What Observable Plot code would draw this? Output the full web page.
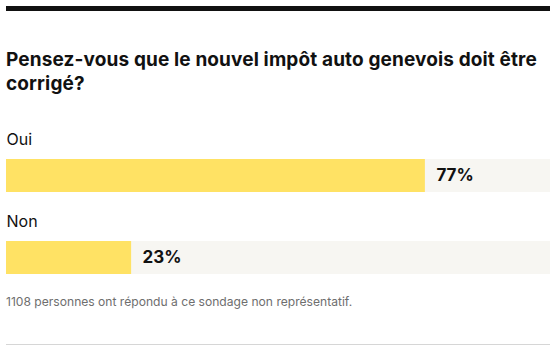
<!DOCTYPE html>
<html>
<head>
<meta charset="utf-8">
<script src="https://cdn.jsdelivr.net/npm/d3@7"></script>
<script src="https://cdn.jsdelivr.net/npm/@observablehq/plot@0.6"></script>
<style>
  html, body { margin: 0; padding: 0; background: #fff; }
  body { width: 558px; height: 351px; position: relative; overflow: hidden; font-family: Inter, Roboto, sans-serif; color: #111; }
  #topbar { position: absolute; left: 6px; top: 6px; width: 544px; height: 5px; background: #111; }
  #title { position: absolute; left: 6px; top: 48px; width: 550px; margin: 0; font-size: 19px; line-height: 24px; font-weight: 700; color: #111; letter-spacing: 0.13px; }
  #chart { position: absolute; left: 0; top: 120px; }
  #caption { position: absolute; left: 6px; top: 294px; font-size: 12.1px; line-height: 16px; color: #6e6e6e; }
  #bottomline { position: absolute; left: 6px; top: 344px; width: 544px; height: 1px; background: #d6d6d6; }
</style>
</head>
<body>
<div id="topbar"></div>
<h2 id="title">Pensez-vous que le nouvel impôt auto genevois doit être corrigé?</h2>
<div id="chart"></div>
<div id="caption">1108 personnes ont répondu à ce sondage non représentatif.</div>
<div id="bottomline"></div>
<script>
const categories = ["Oui", "Non"];
const values = [77, 23];
const valueLabels = ["77%", "23%"];

const data = categories.map((c, i) => ({category: c, value: values[i], label: valueLabels[i], total: 100}));

const plot = Plot.plot({
  width: 558,
  height: 160,
  marginLeft: 6,
  marginRight: 8,
  marginTop: 39,
  marginBottom: 6,
  style: {fontFamily: "Inter, Roboto, sans-serif", background: "transparent", overflow: "visible"},
  x: {domain: [0, 100], axis: null},
  y: {domain: categories, axis: null, paddingInner: 0.5976, paddingOuter: 0},
  marks: [
    Plot.barX(data, {x: "total", y: "category", fill: "#f7f6f2"}),
    Plot.barX(data, {x: "value", y: "category", fill: "#ffe264"}),
    Plot.text(data, {x: "value", y: "category", text: "label", textAnchor: "start", dx: 11, fontSize: 17, fontWeight: 700, fill: "#111"}),
    Plot.text(data, {x: 0, y: "category", text: "category", textAnchor: "start", lineAnchor: "bottom", dy: -31.5, fontSize: 16, fill: "#111"})
  ]
});
document.getElementById("chart").appendChild(plot);
</script>
</body>
</html>
